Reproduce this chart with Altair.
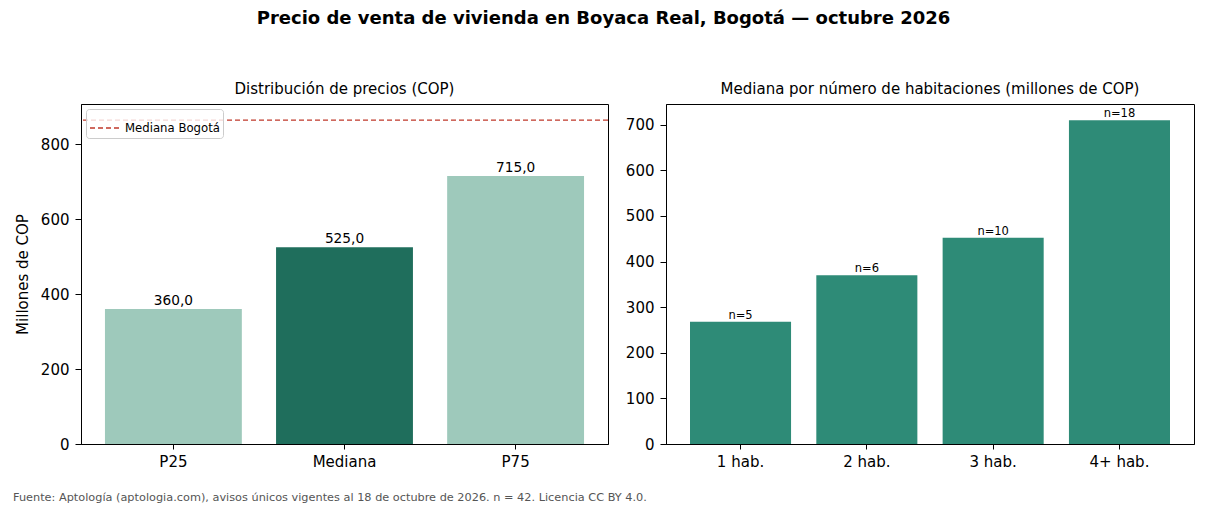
import altair as alt
import pandas as pd

# ---- data ----
stats = ["P25", "Mediana", "P75"]
stat_values = [360.0, 525.0, 715.0]
stat_colors = ["#9ec9bb", "#1f6e5c", "#9ec9bb"]
bogota_label = ["Mediana Bogotá"]
bogota_median = [864.0]

rooms = ["1 hab.", "2 hab.", "3 hab.", "4+ hab."]
room_values = [268, 370, 452, 710]
room_counts = [5, 6, 10, 18]

FONT = "DejaVu Sans"

df1 = pd.DataFrame({
    "stat": stats,
    "value": stat_values,
    "color": stat_colors,
    "label": [f"{v:.1f}".replace(".", ",") for v in stat_values],
})
df_ref = pd.DataFrame({"name": bogota_label, "value": bogota_median})
df2 = pd.DataFrame({
    "rooms": rooms,
    "value": room_values,
    "label": [f"n={n}" for n in room_counts],
})
df_foot = pd.DataFrame({"t": ["Fuente: Aptología (aptologia.com), avisos únicos vigentes al 18 de octubre de 2026. n = 42. Licencia CC BY 4.0."]})

xaxis = dict(title=None, labelAngle=0, labelFontSize=15, labelColor="black",
             tickColor="black", domainColor="black", tickSize=5, bandPosition=0.5,
             labelPadding=5)

# ---- left panel ----
x1 = alt.X("stat:N", sort=stats,
           scale=alt.Scale(paddingInner=0.2, paddingOuter=0.14),
           axis=alt.Axis(**xaxis))
y1 = alt.Y("value:Q", scale=alt.Scale(domain=[0, 907], nice=False, zero=True),
           axis=alt.Axis(title="Millones de COP", values=[0, 200, 400, 600, 800],
                         grid=False, labelFontSize=15, titleFontSize=15,
                         titleFontWeight="normal", labelColor="black", titleColor="black",
                         tickColor="black", domainColor="black", tickSize=6,
                         labelPadding=6, titlePadding=10))

bars1 = alt.Chart(df1).mark_bar().encode(
    x=x1, y=y1, color=alt.Color("color:N", scale=None)
)
text1 = alt.Chart(df1).mark_text(baseline="bottom", dy=-1, fontSize=13.7, font=FONT, color="black").encode(
    x=alt.X("stat:N", sort=stats), y="value:Q", text="label:N"
)
rule1 = alt.Chart(df_ref).mark_rule(strokeDash=[5, 3], strokeWidth=1.4).encode(
    y="value:Q",
    color=alt.Color("name:N", scale=alt.Scale(domain=bogota_label, range=["#c0392b"]),
                    legend=alt.Legend(title=None, orient="top-left", offset=5,
                                      symbolType="stroke", symbolDash=[5, 3],
                                      symbolStrokeWidth=1.4, symbolSize=900,
                                      labelFontSize=11.7, labelColor="black",
                                      fillColor="rgba(255,255,255,0.8)", strokeColor="#cccccc",
                                      cornerRadius=3, padding=3)),
)
foot = alt.Chart(df_foot).mark_text(align="left", baseline="middle", fontSize=11.3,
                                    font=FONT, color="#555555").encode(
    x=alt.value(-68), y=alt.value(394), text="t:N"
)

left = alt.layer(bars1, text1, rule1, foot).resolve_scale(color="independent").properties(
    width=527, height=340,
    title=alt.TitleParams("Distribución de precios (COP)", fontSize=15, fontWeight="normal",
                          font=FONT, offset=7, color="black"),
)

# ---- right panel ----
x2 = alt.X("rooms:N", sort=rooms,
           scale=alt.Scale(paddingInner=0.2, paddingOuter=0.19),
           axis=alt.Axis(**xaxis))
y2 = alt.Y("value:Q", scale=alt.Scale(domain=[0, 745.5], nice=False, zero=True),
           axis=alt.Axis(title=None, values=[0, 100, 200, 300, 400, 500, 600, 700],
                         grid=False, labelFontSize=15, labelColor="black",
                         tickColor="black", domainColor="black", tickSize=6, labelPadding=6))
bars2 = alt.Chart(df2).mark_bar(color="#2e8b77").encode(x=x2, y=y2)
text2 = alt.Chart(df2).mark_text(baseline="bottom", dy=-1, fontSize=11.5, font=FONT, color="black").encode(
    x=alt.X("rooms:N", sort=rooms), y="value:Q", text="label:N"
)
right = alt.layer(bars2, text2).properties(
    width=528, height=340,
    title=alt.TitleParams("Mediana por número de habitaciones (millones de COP)", fontSize=15,
                          fontWeight="normal", font=FONT, offset=7, color="black"),
)

chart = alt.hconcat(left, right, spacing=58, bounds="flush").properties(
    title=alt.TitleParams("Precio de venta de vivienda en Boyaca Real, Bogotá — octubre 2026",
                          fontSize=18, fontWeight="bold", font=FONT, anchor="middle", offset=54,
                          color="black"),
    padding={"left": 12, "top": 9, "right": 10, "bottom": 5},
).configure(font=FONT).configure_view(stroke="black", strokeWidth=1).configure_axis(
    labelFont=FONT, titleFont=FONT
).configure_legend(labelFont=FONT)

chart.save("out.html", embed_options={"renderer": "svg", "actions": False})
